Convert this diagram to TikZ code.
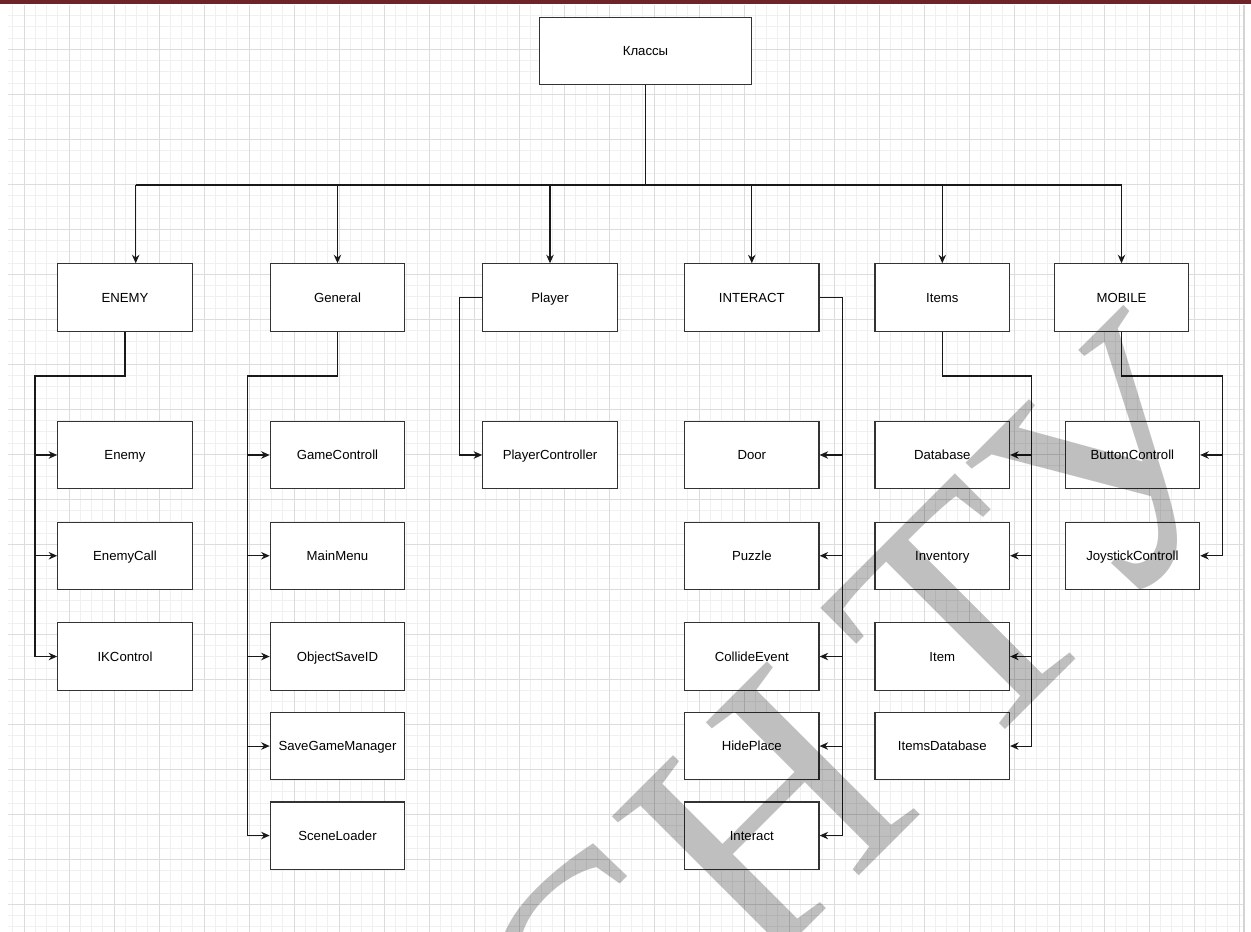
\documentclass[tikz,border=0pt]{standalone}
\usepackage{fontspec}
\setmainfont{Liberation Sans}
\newfontfamily\markfont{Liberation Serif}
\usetikzlibrary{arrows.meta,positioning}
\definecolor{SheetRed}{HTML}{6E2328}
\definecolor{GridMajor}{HTML}{DCDCDC}
\definecolor{GridMinor}{HTML}{F0F0F0}
\definecolor{BoxLine}{HTML}{333333}
\definecolor{SheetEdge}{HTML}{D4D4D4}

\begin{document}
\begin{tikzpicture}[x=0.02cm,y=-0.02cm,node distance=0.645cm]
    \tikzset{cls/.style={draw=BoxLine,fill=white,line width=0.7pt,minimum width=2.69cm,minimum height=1.346cm,inner sep=1pt,text height=5.4pt,text depth=0pt,font=\fontsize{7.5}{9}\selectfont},
        link/.style={draw=black!90,line width=0.6pt},
        arr/.style={link,-{Stealth[length=1.7mm,width=1.5mm]}}}
    \useasboundingbox (0,0) rectangle (1251,932);
    \fill[white] (0,0) rectangle (1251,932);
    \foreach \gx in {12.75,24,...,1243} \draw[GridMinor,line width=0.5pt] (\gx,5) -- (\gx,932);
    \foreach \gy in {15.55,26.8,...,932} \draw[GridMinor,line width=0.5pt] (8,\gy) -- (1243,\gy);
    \foreach \gx in {24,69,...,1243} \draw[GridMajor,line width=0.5pt] (\gx,5) -- (\gx,932);
    \foreach \gy in {49.3,94.3,...,932} \draw[GridMajor,line width=0.5pt] (8,\gy) -- (1243,\gy);
    \fill[SheetRed] (0,0) rectangle (1251,4);
    \draw[SheetEdge,line width=0.8pt] (1244,5) -- (1244,932);

    \node[cls,minimum width=4.25cm] (classes) at (645.5,51.2) {Классы};
    \node[cls] (enemy) at (125,297.5) {ENEMY};
    \node[cls] (general) at (337.5,297.5) {General};
    \node[cls] (player) at (550,297.5) {Player};
    \node[cls] (interact) at (751.8,297.5) {INTERACT};
    \node[cls] (items) at (942.3,297.5) {Items};
    \node[cls] (mobile) at (1121.5,297.5) {MOBILE};

    \node[cls,below=1.78cm of enemy] (enemyA) {Enemy};
    \node[cls,below=of enemyA] (enemyB) {EnemyCall};
    \node[cls,below=of enemyB] (enemyC) {IKControl};

    \node[cls,below=1.78cm of general] (generalA) {GameControll};
    \node[cls,below=of generalA] (generalB) {MainMenu};
    \node[cls,below=of generalB] (generalC) {ObjectSaveID};
    \node[cls,below=0.42cm of generalC] (generalD) {SaveGameManager};
    \node[cls,below=0.42cm of generalD] (generalE) {SceneLoader};

    \node[cls,below=1.78cm of player] (playerA) {PlayerController};

    \node[cls,below=1.78cm of interact] (interactA) {Door};
    \node[cls,below=of interactA] (interactB) {Puzzle};
    \node[cls,below=of interactB] (interactC) {CollideEvent};
    \node[cls,below=0.42cm of interactC] (interactD) {HidePlace};
    \node[cls,below=0.42cm of interactD] (interactE) {Interact};

    \node[cls,below=1.78cm of items] (itemsA) {Database};
    \node[cls,below=of itemsA] (itemsB) {Inventory};
    \node[cls,below=of itemsB] (itemsC) {Item};
    \node[cls,below=0.42cm of itemsC] (itemsD) {ItemsDatabase};

    \node[cls,below=1.78cm of mobile,xshift=0.218cm] (mobileA) {ButtonControll};
    \node[cls,below=of mobileA] (mobileB) {JoystickControll};

    \coordinate (bus) at (645.5,185);
    \coordinate (busL) at ([xshift=0.214cm]enemy.north |- bus);
    \draw[link] (classes.south) -- (bus);
    \draw[link] (busL) -- (bus -| mobile.north);
    \draw[arr] (busL) -- ([xshift=0.214cm]enemy.north);
    \foreach \n in {general,player,interact,items,mobile} \draw[arr] (bus -| \n.north) -- (\n.north);

    \coordinate (enemyrail) at (35,376);
    \draw[arr] (enemy.south) |- (enemyrail) |- (enemyC.west);
    \foreach \n in {enemyA,enemyB} \draw[arr] (enemyrail |- \n.west) -- (\n.west);

    \coordinate (generalrail) at (247.7,376);
    \draw[arr] (general.south) |- (generalrail) |- (generalE.west);
    \foreach \n in {generalA,generalB,generalC,generalD} \draw[arr] (generalrail |- \n.west) -- (\n.west);

    \draw[arr] (player.west) -- ++(-0.445cm,0) |- (playerA.west);

    \draw[arr] (interact.east) -- ++(0.45cm,0) coordinate (interactrail) |- (interactE.east);
    \foreach \n in {interactA,interactB,interactC,interactD} \draw[arr] (interactrail |- \n.east) -- (\n.east);

    \coordinate (itemsrail) at (1031.7,376);
    \draw[arr] (items.south) |- (itemsrail) |- (itemsD.east);
    \foreach \n in {itemsA,itemsB,itemsC} \draw[arr] (itemsrail |- \n.east) -- (\n.east);

    \coordinate (mobilerail) at (1222.3,376);
    \draw[arr] (mobile.south) |- (mobilerail) |- (mobileB.east);
    \draw[arr] (mobilerail |- mobileA.east) -- (mobileA.east);

    \node[rotate=45,anchor=base,inner sep=0,text=black,text opacity=0.25,font=\markfont\fontsize{188}{188}\selectfont] (mark) at (940,795) {СН\hspace{1.2cm}ТУ};
\end{tikzpicture}
\end{document}
